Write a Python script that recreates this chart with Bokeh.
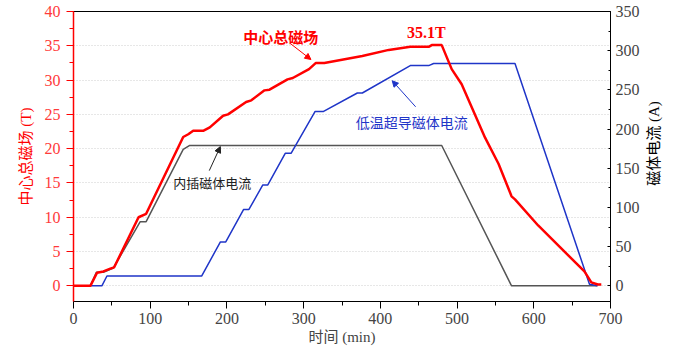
import math
from bokeh.plotting import figure
from bokeh.layouts import row
from bokeh.models import Range1d, LinearAxis, Arrow, NormalHead, Label, SingleIntervalTicker
from bokeh.core.properties import value
from bokeh.embed import file_html
from bokeh.resources import INLINE

# central total field (T) vs time (min)
field_t = [0, 22, 30.7, 39, 48, 53, 84.8, 94.7, 143, 149.6, 156, 169, 177.7, 195, 201.4,
           225, 231.8, 249, 255.5, 279, 285.8, 307, 316, 327, 376.5, 411, 439, 463, 467,
           480, 493, 506, 536.5, 554, 571, 575.5, 605.7, 666, 675, 683.5, 688]
field_b = [0, 0, 1.9, 2.1, 2.5, 2.7, 10.0, 10.5, 21.7, 22.1, 22.6, 22.6, 23.1, 24.8, 25.0,
           26.8, 27.05, 28.5, 28.6, 30.1, 30.3, 31.6, 32.5, 32.5, 33.5, 34.4, 34.85, 34.85, 35.1,
           35.1, 31.6, 29.4, 21.6, 17.8, 13.05, 12.6, 8.8, 2.1, 0.5, 0.2, 0.2]

# LTS magnet current (A)
lts_t = [0, 37, 43.6, 167, 191.5, 198.5, 221.8, 228.7, 246.8, 253.3, 276, 283.6, 315, 326,
         370, 376.5, 439, 463, 469.5, 575.5, 672.6, 683]
lts_i = [0, 0, 12.5, 12.5, 56, 56, 97.5, 97.5, 128.7, 128.7, 169, 169, 222.5, 222.5,
         246, 246, 281, 281, 283.6, 283.6, 2, 0]

# insert magnet current (A)
ins_t = [0, 22, 29.8, 39, 52, 87, 94.7, 143, 151, 480, 571, 683]
ins_i = [0, 0, 17.4, 17.4, 22.8, 81.8, 81.8, 174, 179, 179, 0, 0]

right_title = ["磁体电流 (A)"]

SERIF = "Liberation Serif, Noto Sans CJK SC"
CJK = "Noto Sans CJK SC"
RED = "#ff0000"
BLUE = "#1f35c8"
GREY = "#555555"

H = 347
p = figure(width=642, height=H, x_range=Range1d(0, 700), y_range=Range1d(-2.2857, 40),
           output_backend="svg", toolbar_location=None,
           min_border_left=73, min_border_right=27, min_border_top=11, min_border_bottom=42)
p.extra_y_ranges = {"cur": Range1d(-20, 350)}
p.outline_line_color = "black"
p.outline_line_width = 1
p.background_fill_color = "white"
p.border_fill_color = "white"

p.xgrid.visible = False
p.ygrid.grid_line_color = "#cfcfcf"
p.ygrid.grid_line_dash = "1 2"
p.ygrid.grid_line_width = 1
p.ygrid.ticker = SingleIntervalTicker(interval=5)

xa = p.xaxis[0]
xa.ticker = SingleIntervalTicker(interval=100, num_minor_ticks=2)
xa.axis_label = "时间 (min)"
xa.axis_label_text_font = SERIF
xa.axis_label_text_font_size = "15px"
xa.axis_label_text_font_style = "normal"
xa.axis_label_standoff = 2
xa.major_label_text_font = SERIF
xa.major_label_text_font_size = "16px"
xa.major_label_standoff = 4
xa.major_tick_out = 7
xa.major_tick_in = 0
xa.minor_tick_out = 4
xa.minor_tick_in = 0
xa.axis_line_color = "black"

ya = p.yaxis[0]
ya.ticker = SingleIntervalTicker(interval=5, num_minor_ticks=2)
ya.axis_label = "中心总磁场 (T)"
ya.axis_label_text_font = SERIF
ya.axis_label_text_font_size = "15px"
ya.axis_label_text_font_style = "normal"
ya.axis_label_text_color = RED
ya.axis_label_standoff = 8
ya.major_label_text_font = SERIF
ya.major_label_text_font_size = "16px"
ya.major_label_text_color = "#ff3a3a"
ya.major_label_standoff = 6
ya.axis_line_color = RED
ya.axis_line_width = 1.5
ya.major_tick_line_color = RED
ya.minor_tick_line_color = RED
ya.major_tick_out = 7
ya.major_tick_in = 0
ya.minor_tick_out = 4
ya.minor_tick_in = 0

ax_r = LinearAxis(y_range_name="cur", ticker=SingleIntervalTicker(interval=50, num_minor_ticks=2))
ax_r.major_label_text_font = SERIF
ax_r.major_label_text_font_size = "16px"
ax_r.major_label_standoff = 5
ax_r.major_tick_in = 3
ax_r.major_tick_out = 0
ax_r.minor_tick_in = 2
ax_r.minor_tick_out = 0
p.add_layout(ax_r, "right")

p.line(ins_t, ins_i, y_range_name="cur", line_color=GREY, line_width=1.5)
p.line(lts_t, lts_i, y_range_name="cur", line_color=BLUE, line_width=1.5)
p.line(field_t, field_b, line_color=RED, line_width=2.5)

# annotations
p.add_layout(Label(x=270, y=36.4, text="中心总磁场", text_font=CJK, text_font_size="15px",
                   text_font_style="bold", text_color=RED, text_align="center",
                   text_baseline="middle"))
p.add_layout(Arrow(x_start=283, y_start=35.3, x_end=309.5, y_end=33.0,
                   line_color=RED, line_width=1,
                   end=NormalHead(size=6, fill_color=RED, line_color=RED)))
p.add_layout(Label(x=460, y=36.9, text="35.1T", text_font="Liberation Serif",
                   text_font_size="16px", text_font_style="bold", text_color=RED,
                   text_align="center", text_baseline="middle"))
p.add_layout(Label(x=441, y=23.9, text="低温超导磁体电流", text_font=CJK, text_font_size="14px",
                   text_color=BLUE, text_align="center", text_baseline="middle"))
p.add_layout(Arrow(x_start=446, y_start=26.1, x_end=415.5, y_end=29.9,
                   line_color=BLUE, line_width=1,
                   end=NormalHead(size=6, fill_color=BLUE, line_color=BLUE)))
p.add_layout(Label(x=181, y=15.1, text="内插磁体电流", text_font=CJK, text_font_size="13px",
                   text_color="#222222", text_align="center", text_baseline="middle"))
p.add_layout(Arrow(x_start=177, y_start=16.8, x_end=191.4, y_end=20.3,
                   line_color="#222222", line_width=1,
                   end=NormalHead(size=6, fill_color="#222222", line_color="#222222")))

# narrow strip holding the right axis title (reads bottom-to-top)
side = figure(width=21, height=H, x_range=Range1d(0, 1), y_range=Range1d(0, H),
              output_backend="svg", toolbar_location=None,
              x_axis_location=None, y_axis_location=None, min_border=0)
side.grid.visible = False
side.outline_line_color = None
side.background_fill_color = "white"
side.border_fill_color = "white"
side.text(x=[0.55], y=[H - 158], text=right_title, angle=math.pi / 2,
          text_font=value(SERIF), text_font_size="15px", text_align="center",
          text_baseline="middle", text_color="black")

layout = row(p, side)
open("out.html", "w").write(file_html(layout, INLINE))
